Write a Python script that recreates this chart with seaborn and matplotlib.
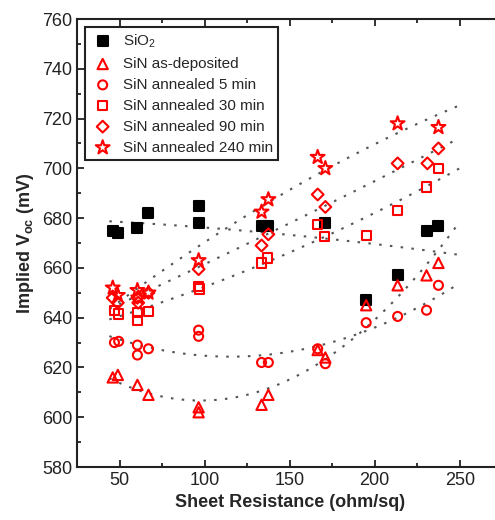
import numpy as np
import matplotlib
matplotlib.use('Agg')
import matplotlib.pyplot as plt
from matplotlib.ticker import MultipleLocator
import seaborn as sns

# 데이터
sio2_x = [46, 49, 60, 67, 96.5, 96.5, 133.5, 137, 171, 195, 213.5, 231, 237.5]
sio2_y = [675, 674, 676, 682, 685, 678, 677, 677, 678, 647, 657, 675, 677]

asdep_x = [46, 49, 60.5, 67, 96.5, 96.5, 133.5, 137.5, 166.5, 171, 195, 213.5, 230.5, 237.5]
asdep_y = [616, 617, 613, 609, 604, 602, 605, 609, 627, 624, 645, 653, 657, 662]

a5_x = [47, 49.5, 60.5, 60.5, 67, 96.5, 96.5, 133.5, 137.5, 166.5, 171, 195, 213.5, 230.5, 237.5]
a5_y = [630, 630.5, 629, 625, 627.5, 635, 632.5, 622, 622, 627.5, 621.5, 638, 640.5, 643, 653]

a30_x = [47, 49.5, 60.5, 60.5, 67, 96.5, 97, 133.5, 137, 166.5, 170.5, 195, 213.5, 230.5, 237.5]
a30_y = [643, 641.5, 642, 639, 642.5, 652.5, 651.5, 662, 664, 677.5, 672.5, 673, 683, 692.5, 700]

a90_x = [46, 49, 60.5, 61, 67, 96.5, 133.5, 137.5, 166.5, 171, 213.5, 231, 237.5]
a90_y = [648, 646, 648, 646, 650, 659.5, 669, 673.5, 689.5, 684.5, 702, 702, 708]

a240_x = [46, 49, 60.5, 61, 67, 96.5, 133.5, 137.5, 166.5, 171, 213.5, 237.5]
a240_y = [652, 649, 651, 648, 650, 663, 682.5, 687.5, 704.5, 700, 718, 716.5]

labels = ['SiO$_2$', 'SiN as-deposited', 'SiN annealed 5 min',
          'SiN annealed 30 min', 'SiN annealed 90 min', 'SiN annealed 240 min']

sns.set_style('ticks')
plt.rcParams['font.family'] = ['Liberation Sans', 'DejaVu Sans']
plt.rcParams['mathtext.fontset'] = 'custom'
plt.rcParams['mathtext.rm'] = 'Liberation Sans'
plt.rcParams['mathtext.bf'] = 'Liberation Sans:bold'

fig = plt.figure(figsize=(4.95, 5.2), dpi=100)
ax = fig.add_axes([0.1556, 0.1019, 0.859, 0.8615])

series = [
    (sio2_x, sio2_y, 's', 'black', 'black', 50),
    (asdep_x, asdep_y, '^', 'none', 'red', 55),
    (a5_x, a5_y, 'o', 'none', 'red', 42),
    (a30_x, a30_y, 's', 'none', 'red', 45),
    (a90_x, a90_y, 'D', 'none', 'red', 36),
    (a240_x, a240_y, '*', 'none', 'red', 110),
]

# 2차 회귀선 (점선)
xs = np.linspace(44, 250, 100)
for x, y, *_ in series:
    coef = np.polyfit(x, y, 2)
    ax.plot(xs, np.polyval(coef, xs), linestyle=(0, (1.2, 4)), color='#555555',
            linewidth=1.5, zorder=1)

for (x, y, m, fc, ec, s), lab in zip(series, labels):
    sns.scatterplot(x=x, y=y, marker=m, s=s, facecolor=fc, edgecolor=ec,
                    linewidth=1.5, label=lab, ax=ax, zorder=3)

ax.set_xlim(25, 275)
ax.set_ylim(580, 760)
ax.xaxis.set_major_locator(MultipleLocator(50))
ax.xaxis.set_minor_locator(MultipleLocator(25))
ax.yaxis.set_major_locator(MultipleLocator(20))
ax.yaxis.set_minor_locator(MultipleLocator(10))
ax.tick_params(which='both', direction='in', top=True, right=True,
               labelsize=13, width=1.3, colors='#222222')
ax.tick_params(which='major', length=5)
ax.tick_params(which='minor', length=3)
for sp in ax.spines.values():
    sp.set_linewidth(1.5)
    sp.set_color('#222222')

ax.set_xlabel('Sheet Resistance (ohm/sq)', fontsize=13, fontweight='bold')
ax.set_ylabel(r'Implied V$_{\mathbf{oc}}$ (mV)', fontsize=13, fontweight='bold')

leg = ax.legend(loc='upper left', bbox_to_anchor=(0.019, 0.982), borderaxespad=0,
                fontsize=11, labelspacing=0.45, handletextpad=0.5,
                handlelength=1.6, borderpad=0.35, fancybox=False, framealpha=1)
leg.get_frame().set_edgecolor('#222222')
leg.get_frame().set_linewidth(1.5)

fig.savefig('out.png', dpi=100)
